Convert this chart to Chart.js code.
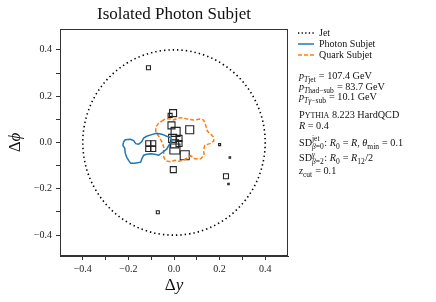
<!DOCTYPE html>
<html>
<head>
<meta charset="utf-8">
<script src="https://cdn.jsdelivr.net/npm/chart.js@4.4.1/dist/chart.umd.min.js"></script>
<style>
  html, body { margin: 0; padding: 0; background: #fff; }
  #chart { display: block; }
</style>
</head>
<body>
<canvas id="chart" width="436" height="302"></canvas>
<script>
// Isolated photon subjet - Δy / Δφ event display

const tickValues = [-0.4, -0.3, -0.2, -0.1, 0.0, 0.1, 0.2, 0.3, 0.4];
const labelValues = [-0.4, -0.2, 0.0, 0.2, 0.4];

const jetR = 0.4;
const ptJet = 107.4;
const ptHadSub = 83.7;
const ptGammaSub = 10.1;
const zCut = 0.1;

// photon subjet contour (Δy, Δφ)
const photonX = [-0.222, -0.214, -0.190, -0.177, -0.168, -0.155, -0.142, -0.133, -0.120, -0.098, -0.076, -0.054, -0.032, -0.014, -0.010, -0.023, -0.032, -0.050, -0.067, -0.085, -0.102, -0.120, -0.133, -0.142, -0.146, -0.172, -0.190, -0.199, -0.207, -0.214, -0.216, -0.224, -0.222];
const photonY = [0.001, 0.012, 0.014, 0.008, -0.005, -0.007, 0.003, 0.019, 0.027, 0.034, 0.040, 0.036, 0.027, 0.021, 0.006, -0.012, -0.029, -0.042, -0.055, -0.051, -0.049, -0.051, -0.055, -0.072, -0.085, -0.090, -0.090, -0.077, -0.064, -0.046, -0.025, -0.012, 0.001];

// quark subjet contour
const quarkX = [-0.054, -0.036, -0.014, -0.001, 0.016, 0.038, 0.060, 0.086, 0.113, 0.130, 0.139, 0.146, 0.161, 0.174, 0.174, 0.157, 0.135, 0.130, 0.132, 0.117, 0.091, 0.073, 0.056, 0.038, 0.021, 0.003, -0.014, -0.036, -0.045, -0.045, -0.045, -0.052, -0.067, -0.080, -0.080, -0.067, -0.054];
const quarkY = [0.092, 0.103, 0.101, 0.097, 0.105, 0.107, 0.101, 0.097, 0.101, 0.097, 0.075, 0.049, 0.036, 0.023, 0.006, -0.005, -0.012, -0.033, -0.055, -0.070, -0.070, -0.057, -0.068, -0.077, -0.081, -0.077, -0.083, -0.079, -0.064, -0.042, -0.020, 0.001, 0.027, 0.045, 0.066, 0.084, 0.092];

// particles
const particleX = [-0.112, -0.004, -0.017, -0.011, 0.007, 0.069, -0.006, 0.022, 0.022, 0.003, 0.004, 0.047, -0.003, -0.113, -0.091, -0.113, -0.091, 0.228, 0.200, 0.245, 0.239, -0.071];
const particleY = [0.323, 0.127, 0.117, 0.074, 0.046, 0.055, 0.018, 0.018, -0.004, -0.006, -0.028, -0.055, -0.117, -0.003, -0.003, -0.028, -0.028, -0.146, -0.009, -0.065, -0.179, -0.301];
const particleWeight = [4, 7, 4, 7, 9, 8, 8, 6, 6, 8, 10, 9, 6, 5, 5, 5, 5, 5, 2, 1.5, 1.5, 3];

const legendLabels = ['Jet', 'Photon Subjet', 'Quark Subjet'];
const colPhoton = '#1f77b4';
const colQuark = '#ff7f0e';
const FAM = "'Liberation Serif', 'DejaVu Serif', serif";

function pts(xs, ys) { return xs.map((x, i) => ({ x, y: ys[i] })); }
function fmt(v) {
  const s = (Math.abs(v) < 1e-9 ? 0 : v).toFixed(1);
  return s.replace('-', '\u2212');
}
function fontStr(size, italic) { return (italic ? 'italic ' : '') + size + 'px ' + FAM; }

// rich text: runs of {t, i} or {sc} or {sub:[...], sup:[...]}
function drawRuns(ctx, runs, x, y, size) {
  let cx = x;
  for (const r of runs) {
    if (r.t !== undefined) {
      ctx.font = fontStr(size, r.i);
      ctx.fillText(r.t, cx, y);
      cx += ctx.measureText(r.t).width;
    } else if (r.sc !== undefined) {
      ctx.font = fontStr(size, false);
      ctx.fillText(r.sc[0], cx, y);
      cx += ctx.measureText(r.sc[0]).width;
      ctx.font = fontStr(size * 0.78, false);
      const rest = r.sc.slice(1).toUpperCase();
      ctx.fillText(rest, cx, y);
      cx += ctx.measureText(rest).width;
    } else {
      const s2 = size * 0.74;
      let w = 0;
      if (r.sup) w = Math.max(w, drawRuns(ctx, r.sup, cx, y - size * 0.4, s2) - cx);
      if (r.sub) w = Math.max(w, drawRuns(ctx, r.sub, cx, y + size * 0.3, s2) - cx);
      cx += w + 0.5;
    }
  }
  return cx;
}

const infoLines = [
  { y: 79, runs: [{ t: 'p', i: 1 }, { sub: [{ t: 'T', i: 1 }, { t: 'jet' }] }, { t: ' = ' + ptJet.toFixed(1) + ' GeV' }] },
  { y: 89.5, runs: [{ t: 'p', i: 1 }, { sub: [{ t: 'T', i: 1 }, { t: 'had\u2212sub' }] }, { t: ' = ' + ptHadSub.toFixed(1) + ' GeV' }] },
  { y: 100, runs: [{ t: 'p', i: 1 }, { sub: [{ t: 'T', i: 1 }, { t: '\u03b3', i: 1 }, { t: '\u2212sub' }] }, { t: ' = ' + ptGammaSub.toFixed(1) + ' GeV' }] },
  { y: 118, runs: [{ sc: 'Pythia' }, { t: ' 8.223 HardQCD' }] },
  { y: 129, runs: [{ t: 'R', i: 1 }, { t: ' = ' + jetR.toFixed(1) }] },
  { y: 145.5, runs: [{ t: 'SD' }, { sup: [{ t: 'jet' }], sub: [{ t: '\u03b2', i: 1 }, { t: '=0' }] }, { t: ': ' }, { t: 'R', i: 1 }, { sub: [{ t: '0' }] }, { t: ' = ' }, { t: 'R', i: 1 }, { t: ', ' }, { t: '\u03b8', i: 1 }, { sub: [{ t: 'min' }] }, { t: ' = 0.1' }] },
  { y: 161, runs: [{ t: 'SD' }, { sup: [{ t: '\u03b3', i: 1 }], sub: [{ t: '\u03b2', i: 1 }, { t: '=2' }] }, { t: ': ' }, { t: 'R', i: 1 }, { sub: [{ t: '0' }] }, { t: ' = ' }, { t: 'R', i: 1 }, { sub: [{ t: '12' }] }, { t: '/2' }] },
  { y: 174, runs: [{ t: 'z', i: 1 }, { sub: [{ t: 'cut' }] }, { t: ' = ' + zCut.toFixed(1) }] }
];

const decorPlugin = {
  id: 'decor',
  beforeDatasetsDraw(chart) {
    const { ctx, scales: { x, y } } = chart;
    // jet circle
    const cx = x.getPixelForValue(0), cy = y.getPixelForValue(0);
    const rx = x.getPixelForValue(jetR) - cx, ry = cy - y.getPixelForValue(jetR);
    ctx.save();
    ctx.strokeStyle = '#000';
    ctx.lineWidth = 1.6;
    ctx.setLineDash([1.4, 3.0]);
    ctx.beginPath();
    ctx.ellipse(cx, cy, rx, ry, 0, 0, Math.PI * 2);
    ctx.stroke();
    ctx.restore();
  },
  afterDraw(chart) {
    const { ctx, chartArea: a } = chart;
    ctx.save();
    // frame
    ctx.strokeStyle = '#333';
    ctx.lineWidth = 1;
    ctx.strokeRect(a.left + 0.5, a.top + 0.5, a.right - a.left - 1, a.bottom - a.top - 1);

    ctx.fillStyle = '#111';
    ctx.textBaseline = 'middle';
    // title
    ctx.font = fontStr(17, false);
    ctx.textAlign = 'center';
    ctx.fillText('Isolated Photon Subjet', (a.left + a.right) / 2, 15);

    // axis titles
    ctx.textAlign = 'left';
    ctx.textBaseline = 'alphabetic';
    ctx.font = fontStr(17, false);
    const dw = ctx.measureText('\u0394').width;
    ctx.font = fontStr(17, true);
    const yw = ctx.measureText('y').width;
    const sx = (a.left + a.right) / 2 - (dw + yw) / 2;
    drawRuns(ctx, [{ t: '\u0394' }, { t: 'y', i: 1 }], sx, 290, 17);

    ctx.save();
    ctx.translate(20, (a.top + a.bottom) / 2);
    ctx.rotate(-Math.PI / 2);
    ctx.font = fontStr(17, true);
    const pw = ctx.measureText('\u03d5').width;
    drawRuns(ctx, [{ t: '\u0394' }, { t: '\u03d5', i: 1 }], -(dw + pw) / 2, 0, 17);
    ctx.restore();

    // legend
    const lx0 = 298, lx1 = 314;
    const ly = [33, 44, 55];
    ctx.lineWidth = 1.5;
    ctx.strokeStyle = '#000';
    ctx.setLineDash([1.3, 2.3]);
    ctx.beginPath(); ctx.moveTo(lx0, ly[0]); ctx.lineTo(lx1, ly[0]); ctx.stroke();
    ctx.setLineDash([]);
    ctx.strokeStyle = colPhoton;
    ctx.beginPath(); ctx.moveTo(lx0, ly[1]); ctx.lineTo(lx1, ly[1]); ctx.stroke();
    ctx.setLineDash([4, 2]);
    ctx.strokeStyle = colQuark;
    ctx.beginPath(); ctx.moveTo(lx0, ly[2]); ctx.lineTo(lx1, ly[2]); ctx.stroke();
    ctx.setLineDash([]);
    ctx.textBaseline = 'middle';
    ctx.font = fontStr(10, false);
    legendLabels.forEach((l, i) => ctx.fillText(l, 319, ly[i] + 0.5));

    // info text
    ctx.textBaseline = 'alphabetic';
    infoLines.forEach(line => drawRuns(ctx, line.runs, 299, line.y, 10.2));
    ctx.restore();
  }
};

const tickFont = { family: FAM, size: 10 };

new Chart(document.getElementById('chart'), {
  type: 'scatter',
  data: {
    datasets: [
      {
        label: legendLabels[1],
        data: pts(photonX, photonY),
        showLine: true,
        borderColor: colPhoton,
        borderWidth: 1.5,
        pointRadius: 0,
        tension: 0
      },
      {
        label: legendLabels[2],
        data: pts(quarkX, quarkY),
        showLine: true,
        borderColor: colQuark,
        borderWidth: 1.5,
        borderDash: [4, 2],
        pointRadius: 0,
        tension: 0
      },
      {
        label: 'particles',
        data: pts(particleX, particleY),
        pointStyle: 'rect',
        pointRadius: particleWeight.map(w => w / Math.SQRT2),
        borderColor: '#222',
        backgroundColor: 'rgba(0,0,0,0)',
        borderWidth: 1.1
      }
    ]
  },
  options: {
    responsive: false,
    devicePixelRatio: 1,
    animation: false,
    events: [],
    layout: { padding: { left: 0, right: 148, top: 29, bottom: 0 } },
    plugins: { legend: { display: false }, tooltip: { enabled: false }, title: { display: false } },
    scales: {
      x: {
        type: 'linear',
        min: -0.5, max: 0.5,
        afterBuildTicks: s => { s.ticks = tickValues.map(v => ({ value: v })); },
        afterFit: s => { s.height = 46; },
        ticks: {
          autoSkip: false, maxRotation: 0, padding: 3,
          color: '#222', font: tickFont,
          callback: v => labelValues.some(l => Math.abs(l - v) < 1e-6) ? fmt(v) : ''
        },
        grid: { drawOnChartArea: false, drawTicks: true, tickLength: 4, color: '#333' },
        border: { color: '#333' }
      },
      y: {
        type: 'linear',
        min: -0.49, max: 0.49,
        afterBuildTicks: s => { s.ticks = tickValues.map(v => ({ value: v })); },
        afterFit: s => { s.width = 60; },
        ticks: {
          autoSkip: false, padding: 4,
          color: '#222', font: tickFont,
          callback: v => labelValues.some(l => Math.abs(l - v) < 1e-6) ? fmt(v) : ''
        },
        grid: { drawOnChartArea: false, drawTicks: true, tickLength: 4, color: '#333' },
        border: { color: '#333' }
      }
    }
  },
  plugins: [decorPlugin]
});
</script>
</body>
</html>
